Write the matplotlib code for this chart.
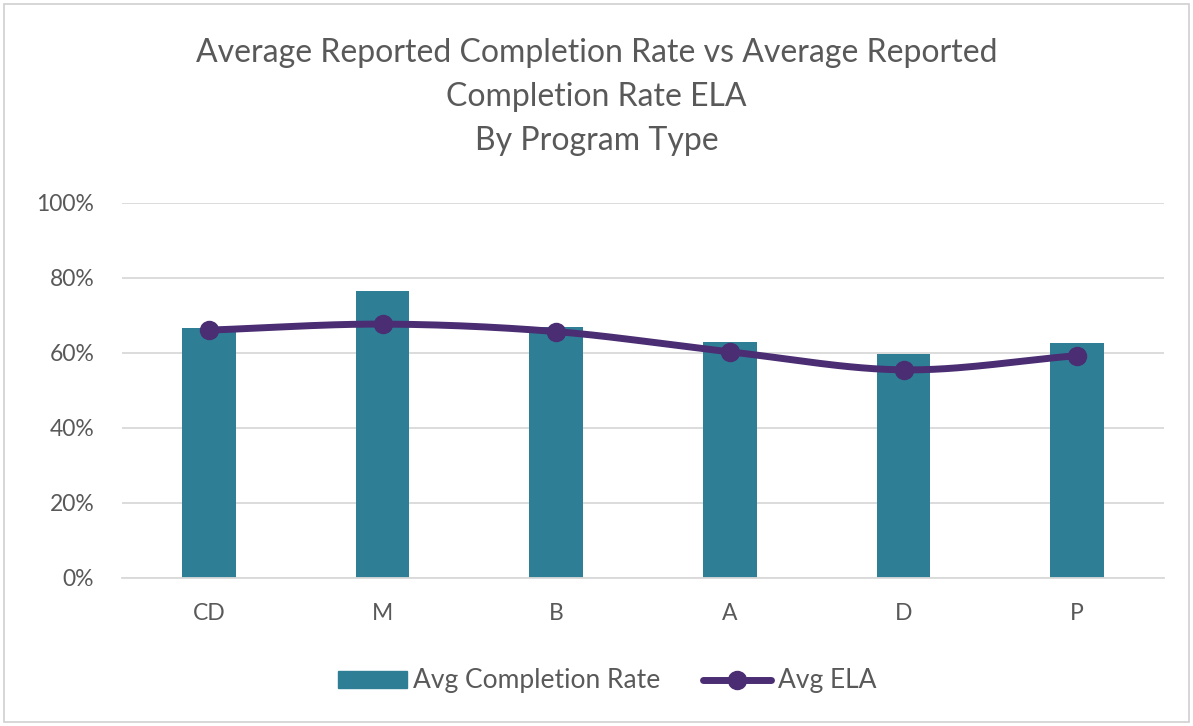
import numpy as np
import matplotlib.pyplot as plt
from matplotlib.ticker import PercentFormatter
from matplotlib.patches import Rectangle
from matplotlib.lines import Line2D

# datos
program_types = ['CD', 'M', 'B', 'A', 'D', 'P']
avg_completion_rate = [0.666, 0.765, 0.670, 0.630, 0.597, 0.626]
avg_ela = [0.661, 0.677, 0.657, 0.603, 0.555, 0.593]

bar_color = '#2E7F96'
line_color = '#4A2D72'
text_color = '#595959'

plt.rcParams['font.family'] = ['Lato', 'DejaVu Sans']

fig = plt.figure(figsize=(11.93, 7.26), dpi=100)
ax = fig.add_axes([0.1023, 0.2039, 0.8734, 0.5165])

x = np.arange(len(program_types))
ax.bar(x, avg_completion_rate, width=0.31, color=bar_color, zorder=2)

# linea suavizada (Catmull-Rom) como en Excel
def smooth(xs, ys, n=30):
    xs = np.asarray(xs, float)
    ys = np.asarray(ys, float)
    px = np.concatenate([[2*xs[0]-xs[1]], xs, [2*xs[-1]-xs[-2]]])
    py = np.concatenate([[2*ys[0]-ys[1]], ys, [2*ys[-1]-ys[-2]]])
    out_x, out_y = [], []
    for i in range(1, len(px)-2):
        t = np.linspace(0, 1, n)
        for p, out in ((px, out_x), (py, out_y)):
            p0, p1, p2, p3 = p[i-1], p[i], p[i+1], p[i+2]
            out.extend(0.5*((2*p1) + (-p0+p2)*t + (2*p0-5*p1+4*p2-p3)*t**2 + (-p0+3*p1-3*p2+p3)*t**3))
    return out_x, out_y

sx, sy = smooth(x, avg_ela)
ax.plot(sx, sy, color=line_color, lw=5, solid_capstyle='round', zorder=3)
ax.plot(x, avg_ela, 'o', color=line_color, ms=13, zorder=4)

ax.set_xlim(-0.5, len(program_types)-0.5)
ax.set_ylim(0, 1)
ax.set_yticks(np.arange(0, 1.01, 0.2))
ax.yaxis.set_major_formatter(PercentFormatter(1.0, decimals=0))
ax.set_xticks(x)
ax.set_xticklabels(program_types)
ax.tick_params(axis='both', length=0, labelsize=16.5, colors=text_color)
ax.tick_params(axis='x', pad=18)
ax.tick_params(axis='y', pad=20)
ax.grid(axis='y', color='#D9D9D9', lw=1.3, zorder=0)
for s in ['top', 'right', 'left']:
    ax.spines[s].set_visible(False)
ax.spines['bottom'].set_color('#D9D9D9')
ax.spines['bottom'].set_linewidth(1.3)

fig.text(0.5, 0.947, 'Average Reported Completion Rate vs Average Reported\nCompletion Rate ELA\nBy Program Type',
         ha='center', va='top', fontsize=23, color=text_color, linespacing=1.58)

handles = [Rectangle((0, 0), 1, 1, color=bar_color),
           Line2D([], [], color=line_color, lw=5, marker='o', ms=13, solid_capstyle='round')]
fig.legend(handles, ['Avg Completion Rate', 'Avg ELA'], loc='center', bbox_to_anchor=(0.509, 0.062),
           ncol=2, frameon=False, fontsize=19, labelcolor=text_color, handlelength=2.6,
           handleheight=0.6, handletextpad=0.25, columnspacing=1.6)

# marco exterior
fig.patches.append(Rectangle((0.003, 0.006), 0.994, 0.988, transform=fig.transFigure,
                             fill=False, edgecolor='#D0D0D0', lw=1.2))

plt.savefig('out.png', dpi=100)
